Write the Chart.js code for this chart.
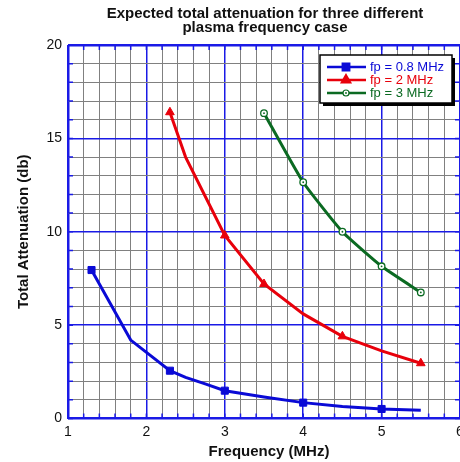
<!DOCTYPE html>
<html>
<head>
<meta charset="utf-8">
<script src="https://cdn.jsdelivr.net/npm/chart.js@4"></script>
<style>
  html, body { margin: 0; padding: 0; overflow: hidden; background: #fff; width: 460px; height: 462px; }
  canvas { display: block; }
</style>
</head>
<body>
<canvas id="chart" width="470" height="462"></canvas>
<script>
// values
const freqLow = [1.3, 1.8, 2.3, 2.5, 2.75, 3, 3.5, 4, 4.5, 5, 5.5];
const attLow  = [7.95, 4.2, 2.56, 2.2, 1.85, 1.49, 1.15, 0.85, 0.64, 0.51, 0.44];
const markLow = [1, 0, 1, 0, 0, 1, 0, 1, 0, 1, 0];

const freqMid = [2.3, 2.5, 3, 3.5, 4, 4.5, 5, 5.5];
const attMid  = [16.4, 14.0, 9.8, 7.2, 5.6, 4.4, 3.62, 2.96];
const markMid = [1, 0, 1, 1, 0, 1, 0, 1];

const freqHigh = [3.5, 4, 4.5, 5, 5.5];
const attHigh  = [16.35, 12.65, 10.0, 8.15, 6.75];

const seriesNames = ['fp = 0.8 MHz', 'fp = 2 MHz', 'fp = 3 MHz'];
const xTickLabels = [1, 2, 3, 4, 5, 6];
const yTickLabels = [0, 5, 10, 15, 20];

const BLUE = '#0a0ad6';
const RED = '#e8000b';
const GREEN = '#0b6a22';
const GRID_BLUE = '#1a1ae6';
const GRID_GRAY = '#808080';
const FONT = '"Liberation Sans", Arial, Helvetica, sans-serif';

function pts(xs, ys) {
  return xs.map((x, i) => ({ x: x, y: ys[i] }));
}

function isWhole(v) {
  return Math.abs(v - Math.round(v)) < 1e-6;
}

// little blue tick marks pointing inward on all four sides
const frameTicks = {
  id: 'frameTicks',
  beforeDatasetsDraw(chart) {
    const { ctx, chartArea: a, scales } = chart;
    ctx.save();
    ctx.strokeStyle = GRID_BLUE;
    ctx.lineWidth = 1.5;
    ctx.beginPath();
    scales.x.ticks.forEach(t => {
      const px = scales.x.getPixelForValue(t.value);
      ctx.moveTo(px, a.bottom); ctx.lineTo(px, a.bottom - 5);
      ctx.moveTo(px, a.top); ctx.lineTo(px, a.top + 5);
    });
    scales.y.ticks.forEach(t => {
      const py = scales.y.getPixelForValue(t.value);
      ctx.moveTo(a.left, py); ctx.lineTo(a.left + 5, py);
      ctx.moveTo(a.right, py); ctx.lineTo(a.right - 5, py);
    });
    ctx.stroke();
    ctx.restore();
  }
};

// centre dots in the open circles, titles and the boxed legend
const decorations = {
  id: 'decorations',
  afterDraw(chart) {
    const { ctx, chartArea: a } = chart;
    ctx.save();

    const meta = chart.getDatasetMeta(2);
    ctx.fillStyle = GREEN;
    meta.data.forEach(p => {
      ctx.beginPath();
      ctx.arc(p.x, p.y, 0.9, 0, Math.PI * 2);
      ctx.fill();
    });

    ctx.fillStyle = '#111';
    ctx.textAlign = 'center';
    ctx.textBaseline = 'middle';
    ctx.font = 'bold 15px ' + FONT;
    ctx.fillText('Expected total attenuation for three different', 265, 14);
    ctx.fillText('plasma frequency case', 265, 27.5);
    ctx.fillText('Frequency (MHz)', 269, 452);

    ctx.save();
    ctx.translate(24, (a.top + a.bottom) / 2);
    ctx.rotate(-Math.PI / 2);
    ctx.fillText('Total Attenuation (db)', 0, 0);
    ctx.restore();

    // legend
    const bx = 320, by = 55, bw = 132, bh = 48;
    ctx.fillStyle = '#000';
    ctx.fillRect(bx + 3, by + 3, bw, bh);
    ctx.fillStyle = '#fff';
    ctx.fillRect(bx, by, bw, bh);
    ctx.strokeStyle = '#000';
    ctx.lineWidth = 1.5;
    ctx.strokeRect(bx, by, bw, bh);

    const colors = [BLUE, RED, GREEN];
    const styles = ['rect', 'triangle', 'circle'];
    ctx.textAlign = 'left';
    ctx.font = '13px ' + FONT;
    seriesNames.forEach((name, i) => {
      const y = 67 + i * 13;
      ctx.strokeStyle = colors[i];
      ctx.lineWidth = 2.5;
      ctx.beginPath();
      ctx.moveTo(327, y); ctx.lineTo(366, y);
      ctx.stroke();
      if (styles[i] === 'circle') {
        ctx.fillStyle = '#fff';
        ctx.lineWidth = 1.2;
        ctx.beginPath(); ctx.arc(346, y, 3, 0, Math.PI * 2); ctx.fill(); ctx.stroke();
        ctx.fillStyle = colors[i];
        ctx.beginPath(); ctx.arc(346, y, 0.9, 0, Math.PI * 2); ctx.fill();
      } else {
        ctx.fillStyle = colors[i];
        ctx.strokeStyle = colors[i];
        Chart.helpers.drawPoint(ctx, { pointStyle: styles[i], radius: 4.5, borderWidth: 1, rotation: 0 }, 346, y);
      }
      ctx.fillStyle = colors[i];
      ctx.fillText(name, 370, y + 0.5);
    });
    ctx.restore();
  }
};

new Chart(document.getElementById('chart'), {
  type: 'line',
  data: {
    datasets: [
      {
        label: seriesNames[0],
        data: pts(freqLow, attLow),
        borderColor: BLUE,
        backgroundColor: BLUE,
        borderWidth: 3,
        pointStyle: 'rect',
        pointRadius: markLow.map(m => m ? 5 : 0),
        pointBorderWidth: 1,
        tension: 0
      },
      {
        label: seriesNames[1],
        data: pts(freqMid, attMid),
        borderColor: RED,
        backgroundColor: RED,
        borderWidth: 3,
        pointStyle: 'triangle',
        pointRadius: markMid.map(m => m ? 5 : 0),
        pointBorderWidth: 1,
        tension: 0
      },
      {
        label: seriesNames[2],
        data: pts(freqHigh, attHigh),
        borderColor: GREEN,
        backgroundColor: '#fff',
        borderWidth: 3,
        pointStyle: 'circle',
        pointRadius: 3.3,
        pointBorderWidth: 1.3,
        pointBackgroundColor: '#fff',
        tension: 0.15
      }
    ]
  },
  options: {
    responsive: false,
    animation: false,
    events: [],
    layout: { padding: { top: 45, right: 10, left: 0, bottom: 0 } },
    plugins: {
      legend: { display: false },
      title: { display: false },
      tooltip: { enabled: false }
    },
    scales: {
      x: {
        type: 'linear',
        min: 1,
        max: 6,
        afterFit(s) { s.height = 43.5; },
        border: { display: false },
        grid: {
          drawTicks: false,
          color: c => isWhole(c.tick.value) ? GRID_BLUE : GRID_GRAY,
          lineWidth: c => (c.tick.value === 1 || c.tick.value === 6) ? 2.5 : (isWhole(c.tick.value) ? 1.5 : 1)
        },
        ticks: {
          stepSize: 0.2,
          autoSkip: false,
          maxRotation: 0,
          padding: 5,
          color: '#111',
          font: { family: FONT, size: 14 },
          callback: v => (isWhole(v) && xTickLabels.includes(Math.round(v))) ? String(Math.round(v)) : ''
        }
      },
      y: {
        type: 'linear',
        min: 0,
        max: 20,
        afterFit(s) { s.width = 68; },
        border: { display: false },
        grid: {
          drawTicks: false,
          color: c => (c.tick.value % 5 === 0) ? GRID_BLUE : GRID_GRAY,
          lineWidth: c => (c.tick.value === 0 || c.tick.value === 20) ? 2.5 : (c.tick.value % 5 === 0 ? 1.5 : 1)
        },
        ticks: {
          stepSize: 1,
          autoSkip: false,
          padding: 6,
          color: '#111',
          font: { family: FONT, size: 14 },
          callback: v => yTickLabels.includes(v) ? String(v) : ''
        }
      }
    }
  },
  plugins: [frameTicks, decorations]
});
</script>
</body>
</html>
